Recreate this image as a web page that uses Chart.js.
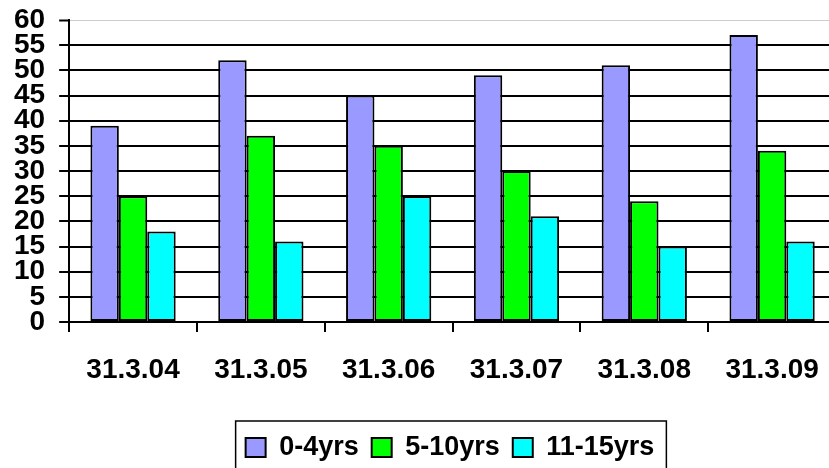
<!DOCTYPE html>
<html>
<head>
<meta charset="utf-8">
<script src="https://cdn.jsdelivr.net/npm/chart.js@4"></script>
<style>
  html, body { margin:0; padding:0; background:#fff; overflow:hidden; }
  /* the source chart is cut off on the right, so the canvas is wider than the window */
  #wrap { width:829px; height:468px; overflow:hidden; }
  #wrap div { width:900px; height:471px; position:relative; }
</style>
</head>
<body>
<div id="wrap"><div><canvas id="chart"></canvas></div></div>
<script>
'use strict';

// ── Data ──────────────────────────────────────────────────────────
const categories = ['31.3.04', '31.3.05', '31.3.06', '31.3.07', '31.3.08', '31.3.09'];
const seriesLabels = ['0-4yrs', '5-10yrs', '11-15yrs'];
const age0to4   = [39, 52, 45, 49, 51, 57];
const age5to10  = [25, 37, 35, 30, 24, 34];
const age11to15 = [18, 16, 25, 21, 15, 16];
const yTicks = [0, 5, 10, 15, 20, 25, 30, 35, 40, 45, 50, 55, 60];
const colors = ['#9999ff', '#00ff00', '#00ffff'];

const FONT = "'Liberation Sans', Arial, sans-serif";

// black frame round the legend (bottom edge falls outside the picture)
const legendFrame = {
  id: 'legendFrame',
  afterDraw(chart) {
    const lg = chart.legend;
    if (!lg || !lg.legendHitBoxes || !lg.legendHitBoxes.length) return;
    const hb = lg.legendHitBoxes;
    const last = hb[hb.length - 1];
    const left = hb[0].left - 10;
    const right = last.left + last.width + 12;
    const top = lg.top;
    const ctx = chart.ctx;
    ctx.save();
    ctx.strokeStyle = '#000';
    ctx.lineWidth = 1.5;
    ctx.strokeRect(left, top, right - left, chart.height + 10 - top);
    ctx.restore();
  }
};

const datasets = [age0to4, age5to10, age11to15].map((data, i) => ({
  label: seriesLabels[i],
  data,
  backgroundColor: colors[i],
  borderColor: '#000',
  borderWidth: 2,
  borderSkipped: false,
  categoryPercentage: 0.667,
  barPercentage: 1
}));

// top gridline is a faint grey, the rest are black
const gridColors = yTicks.map(v => v === 60 ? '#cccccc' : '#000');
const gridWidths = yTicks.map(v => v === 60 ? 1 : 2);

new Chart(document.getElementById('chart'), {
  type: 'bar',
  data: { labels: categories, datasets },
  plugins: [legendFrame],
  options: {
    responsive: true, maintainAspectRatio: false,
    animation: false,
    layout: { padding: { left: 0, right: 0, top: 20, bottom: 0 } },
    scales: {
      x: {
        grid: { display: true, offset: true, drawOnChartArea: false, color: '#000', lineWidth: 2, tickLength: 10 },
        border: { display: true, color: '#000', width: 2 },
        ticks: { color: '#000', padding: 24, font: { family: FONT, size: 28, weight: 'bold', lineHeight: 1 } },
        afterFit(s) { s.height = 99; }
      },
      y: {
        min: 0, max: 60,
        grid: {
          color: gridColors,
          lineWidth: gridWidths,
          tickColor: '#000', tickWidth: 2, tickLength: 10
        },
        border: { display: true, color: '#000', width: 2 },
        ticks: {
          stepSize: 5, autoSkip: false, color: '#000', padding: 14,
          font: { family: FONT, size: 28, weight: 'bold', lineHeight: 1 }
        },
        // label padding is only wanted sideways, not above the top tick
        afterFit(s) { s.paddingTop = 0; s.paddingBottom = 0; }
      },
      yPad: {
        type: 'linear', position: 'right', display: true,
        grid: { display: false }, border: { display: false }, ticks: { display: false },
        afterFit(s) { s.width = 64; }
      }
    },
    plugins: {
      legend: {
        position: 'bottom',
        labels: {
          color: '#000', boxWidth: 20, boxHeight: 19, padding: 13,
          font: { family: FONT, size: 27, weight: 'bold' }
        }
      },
      tooltip: { enabled: false }
    }
  }
});
</script>
</body>
</html>
